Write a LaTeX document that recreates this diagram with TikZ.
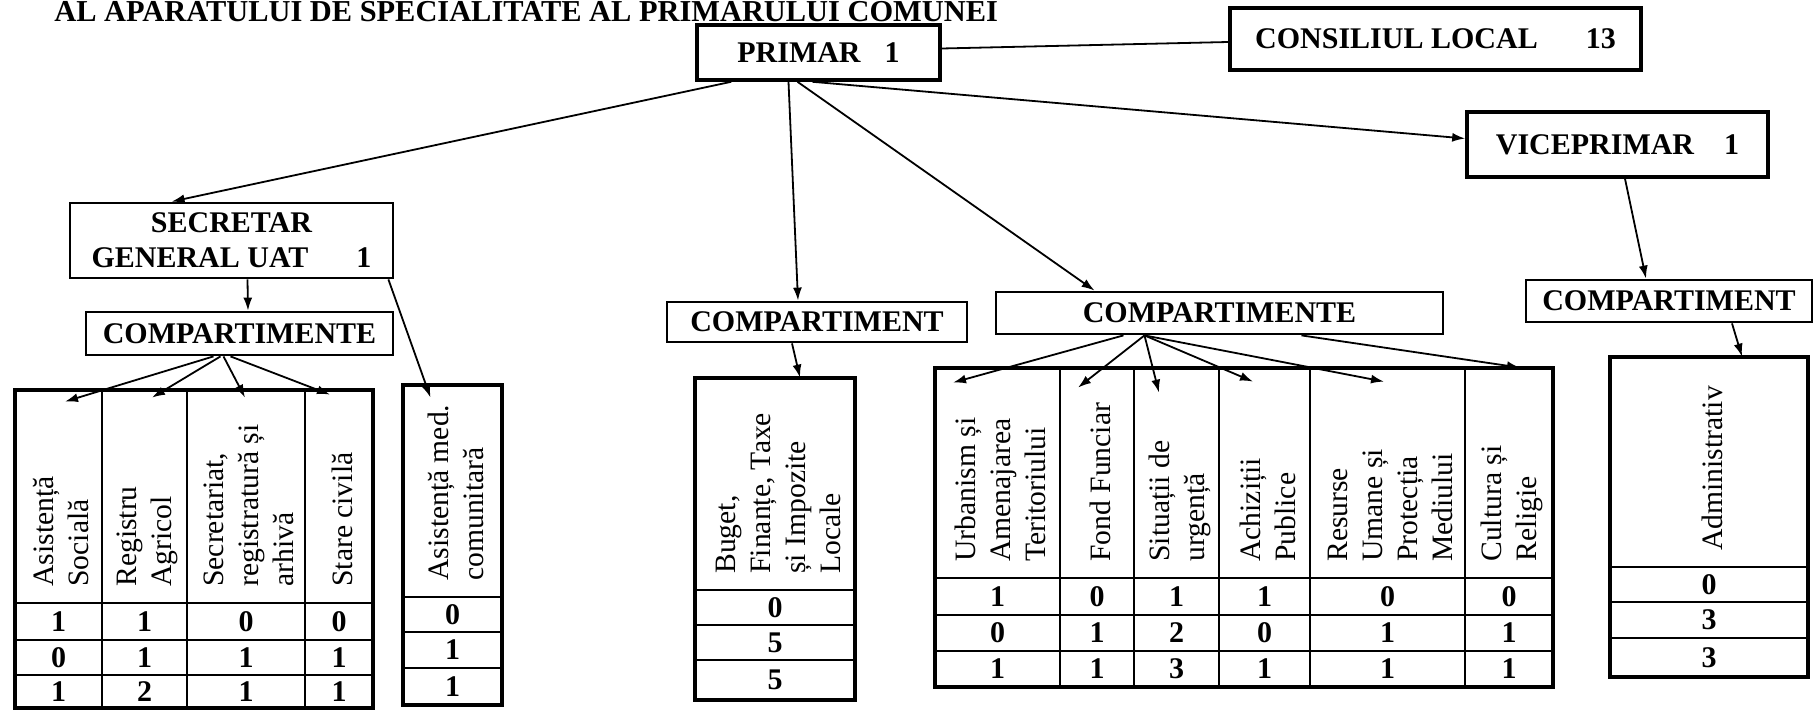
\documentclass[tikz,border=0pt]{standalone}
\usepackage{fontspec}
\setmainfont{Liberation Serif}
\usetikzlibrary{arrows.meta,calc,fit}
\newcommand\orgtable[6]{%
  \foreach \nm/\xl/\xr/\txt/\a/\b/\c in {#6}{%
    \draw[vdiv] (\xl,#1) rectangle (\xr,#5);
    \draw[hdiv] (\xl,#2) -- (\xr,#2) (\xl,#3) -- (\xr,#3) (\xl,#4) -- (\xr,#4);
    \node[cell, fit={(\xl,#1) (\xr,#2)}] (\nm) {};
    \node[vtext] at ({(\xl+\xr)/2+3},{#2-16}) {\txt};
    \node[num] at ({(\xl+\xr)/2},{(#2+#3)/2}) {\a};
    \node[num] at ({(\xl+\xr)/2},{(#3+#4)/2}) {\b};
    \node[num] at ({(\xl+\xr)/2},{(#4+#5)/2}) {\c};
  }}
\begin{document}
\begin{tikzpicture}[x=0.5pt,y=-0.5pt,
  hbox/.style={draw, line width=1.8pt, inner sep=0, font=\bfseries\fontsize{15}{17.5}\selectfont, align=center},
  sbox/.style={hbox, line width=1.4pt},
  arr/.style={line width=0.9pt, -{Latex[length=6.5pt,width=4.5pt]}},
  conn/.style={line width=0.9pt},
  outer/.style={line width=1.7pt},
  vdiv/.style={line width=1.1pt},
  hdiv/.style={line width=0.7pt},
  vtext/.style={rotate=90, anchor=west, align=left, inner sep=0, font=\fontsize{14.8}{17.5}\selectfont},
  num/.style={inner sep=0, font=\bfseries\fontsize{15}{17}\selectfont},
  cell/.style={inner sep=0}
]
\useasboundingbox (0,0) rectangle (1817,712);

% title
\node[anchor=base west, inner sep=0, font=\bfseries\fontsize{15.2}{17}\selectfont] (title) at (54,21)
  {AL APARATULUI DE SPECIALITATE AL PRIMARULUI COMUNEI};

% top boxes
\node[hbox, minimum width=121.5pt, minimum height=27.5pt] (primar) at (818.5,52.5) {PRIMAR\hspace{0.8em}1};
\node[hbox, minimum width=205.5pt, minimum height=31pt] (consiliu) at (1435.5,39) {CONSILIUL LOCAL\hspace{1.6em}13};
\node[hbox, minimum width=150.5pt, minimum height=32.5pt] (vice) at (1617.5,144.5) {VICEPRIMAR\hspace{1em}1};
\node[sbox, minimum width=161.5pt, minimum height=37.5pt] (secretar) at (231.5,240.5) {SECRETAR\\GENERAL UAT\hspace{1.6em}1};

% compartiment headers
\node[sbox, minimum width=153.5pt, minimum height=21.5pt] (compS) at (239.5,333.5) {COMPARTIMENTE};
\node[sbox, minimum width=150pt, minimum height=20pt] (compB) at (817,322) {COMPARTIMENT};
\node[sbox, minimum width=223.5pt, minimum height=21pt] (compM) at (1219.5,313) {COMPARTIMENTE};
\node[sbox, minimum width=143pt, minimum height=21pt] (compV) at (1669,301) {COMPARTIMENT};

% tables
\orgtable{390}{603}{640}{675}{708}{%
  as/15/102/{Asistență\\Socială}/1/0/1,
  ra/102/187/{Registru\\Agricol}/1/1/2,
  sr/187/305/{Secretariat,\\registratură și\\arhivă}/0/1/1,
  sc/305/373/{Stare civilă}/0/1/1}
\draw[outer] (15,390) rectangle (373,708);

\orgtable{385}{597}{632}{668}{705}{%
  am/403/502/{Asistență med.\\comunitară}/0/1/1}
\draw[outer] (403,385) rectangle (502,705);

\orgtable{378}{590}{625}{660}{700}{%
  bf/695/855/{Buget,\\Finanțe, Taxe\\și Impozite\\Locale}/0/5/5}
\draw[outer] (695,378) rectangle (855,700);

\orgtable{368}{578}{615}{651}{687}{%
  ua/935/1060/{Urbanism și\\Amenajarea\\Teritoriului}/1/0/1,
  ff/1060/1134/{Fond Funciar}/0/1/1,
  su/1134/1219/{Situații de\\urgență}/1/2/3,
  ap/1219/1310/{Achiziții\\Publice}/1/0/1,
  rm/1310/1465/{Resurse\\Umane și\\Protecția\\Mediului}/0/1/1,
  cr/1465/1553/{Cultura și\\Religie}/0/1/1}
\draw[outer] (935,368) rectangle (1553,687);

\orgtable{357}{567}{602}{638}{677}{%
  ad/1610/1808/{Administrativ}/0/3/3}
\draw[outer] (1610,357) rectangle (1808,677);

% connectors from PRIMAR
\draw[conn] ($(primar.east)+(0,-4)$) -- ($(consiliu.west)+(0,3)$);
\draw[arr] ($(primar.south west)+(36,0)$) -- ($(secretar.north west)+(103,0)$);
\draw[arr] ($(primar.south)+(-30,0)$) -- ($(compB.north)+(-19,0)$);
\draw[arr] ($(primar.south)+(-21,0)$) -- ($(compM.north west)+(100,0)$);
\draw[arr] ($(primar.south)+(-6,0)$) -- ($(vice.west)+(0,-6)$);

% secretar branch
\draw[arr] ($(secretar.south)+(16,0)$) -- ($(compS.north)+(8.5,0)$);
\draw[arr] ($(secretar.south east)+(-6,0)$) -- ($(am.north)+(-22,13)$);
\draw[arr] ($(compS.south)+(-26,0)$) -- ($(as.north)+(6.5,12)$);
\draw[arr] ($(compS.south)+(-19,0)$) -- ($(ra.north)+(7.5,8)$);
\draw[arr] ($(compS.south)+(-16,0)$) -- ($(sr.north)+(-1,8)$);
\draw[arr] ($(compS.south)+(-9,0)$) -- ($(sc.north)+(-9,5)$);

% buget branch
\draw[arr] ($(compB.south)+(-25,0)$) -- ($(bf.north)+(25,0)$);

% middle branch
\draw[arr] ($(compM.south)+(-96,0)$) -- ($(ua.north)+(-44.5,15)$);
\draw[arr] ($(compM.south)+(-75,0)$) -- ($(ff.north)+(-19,20)$);
\draw[arr] ($(compM.south)+(-75,0)$) -- ($(su.north)+(-17.5,25)$);
\draw[arr] ($(compM.south)+(-75,0)$) -- ($(ap.north)+(-11.5,14)$);
\draw[arr] ($(compM.south)+(-75,0)$) -- ($(rm.north)+(-3.5,14)$);
\draw[arr] ($(compM.south)+(82,0)$) -- ($(cr.north)+(11,0)$);

% viceprimar branch
\draw[arr] ($(vice.south)+(7.5,0)$) -- ($(compV.north)+(-23,0)$);
\draw[arr] ($(compV.south)+(63,0)$) -- ($(ad.north)+(33,0)$);
\end{tikzpicture}
\end{document}
